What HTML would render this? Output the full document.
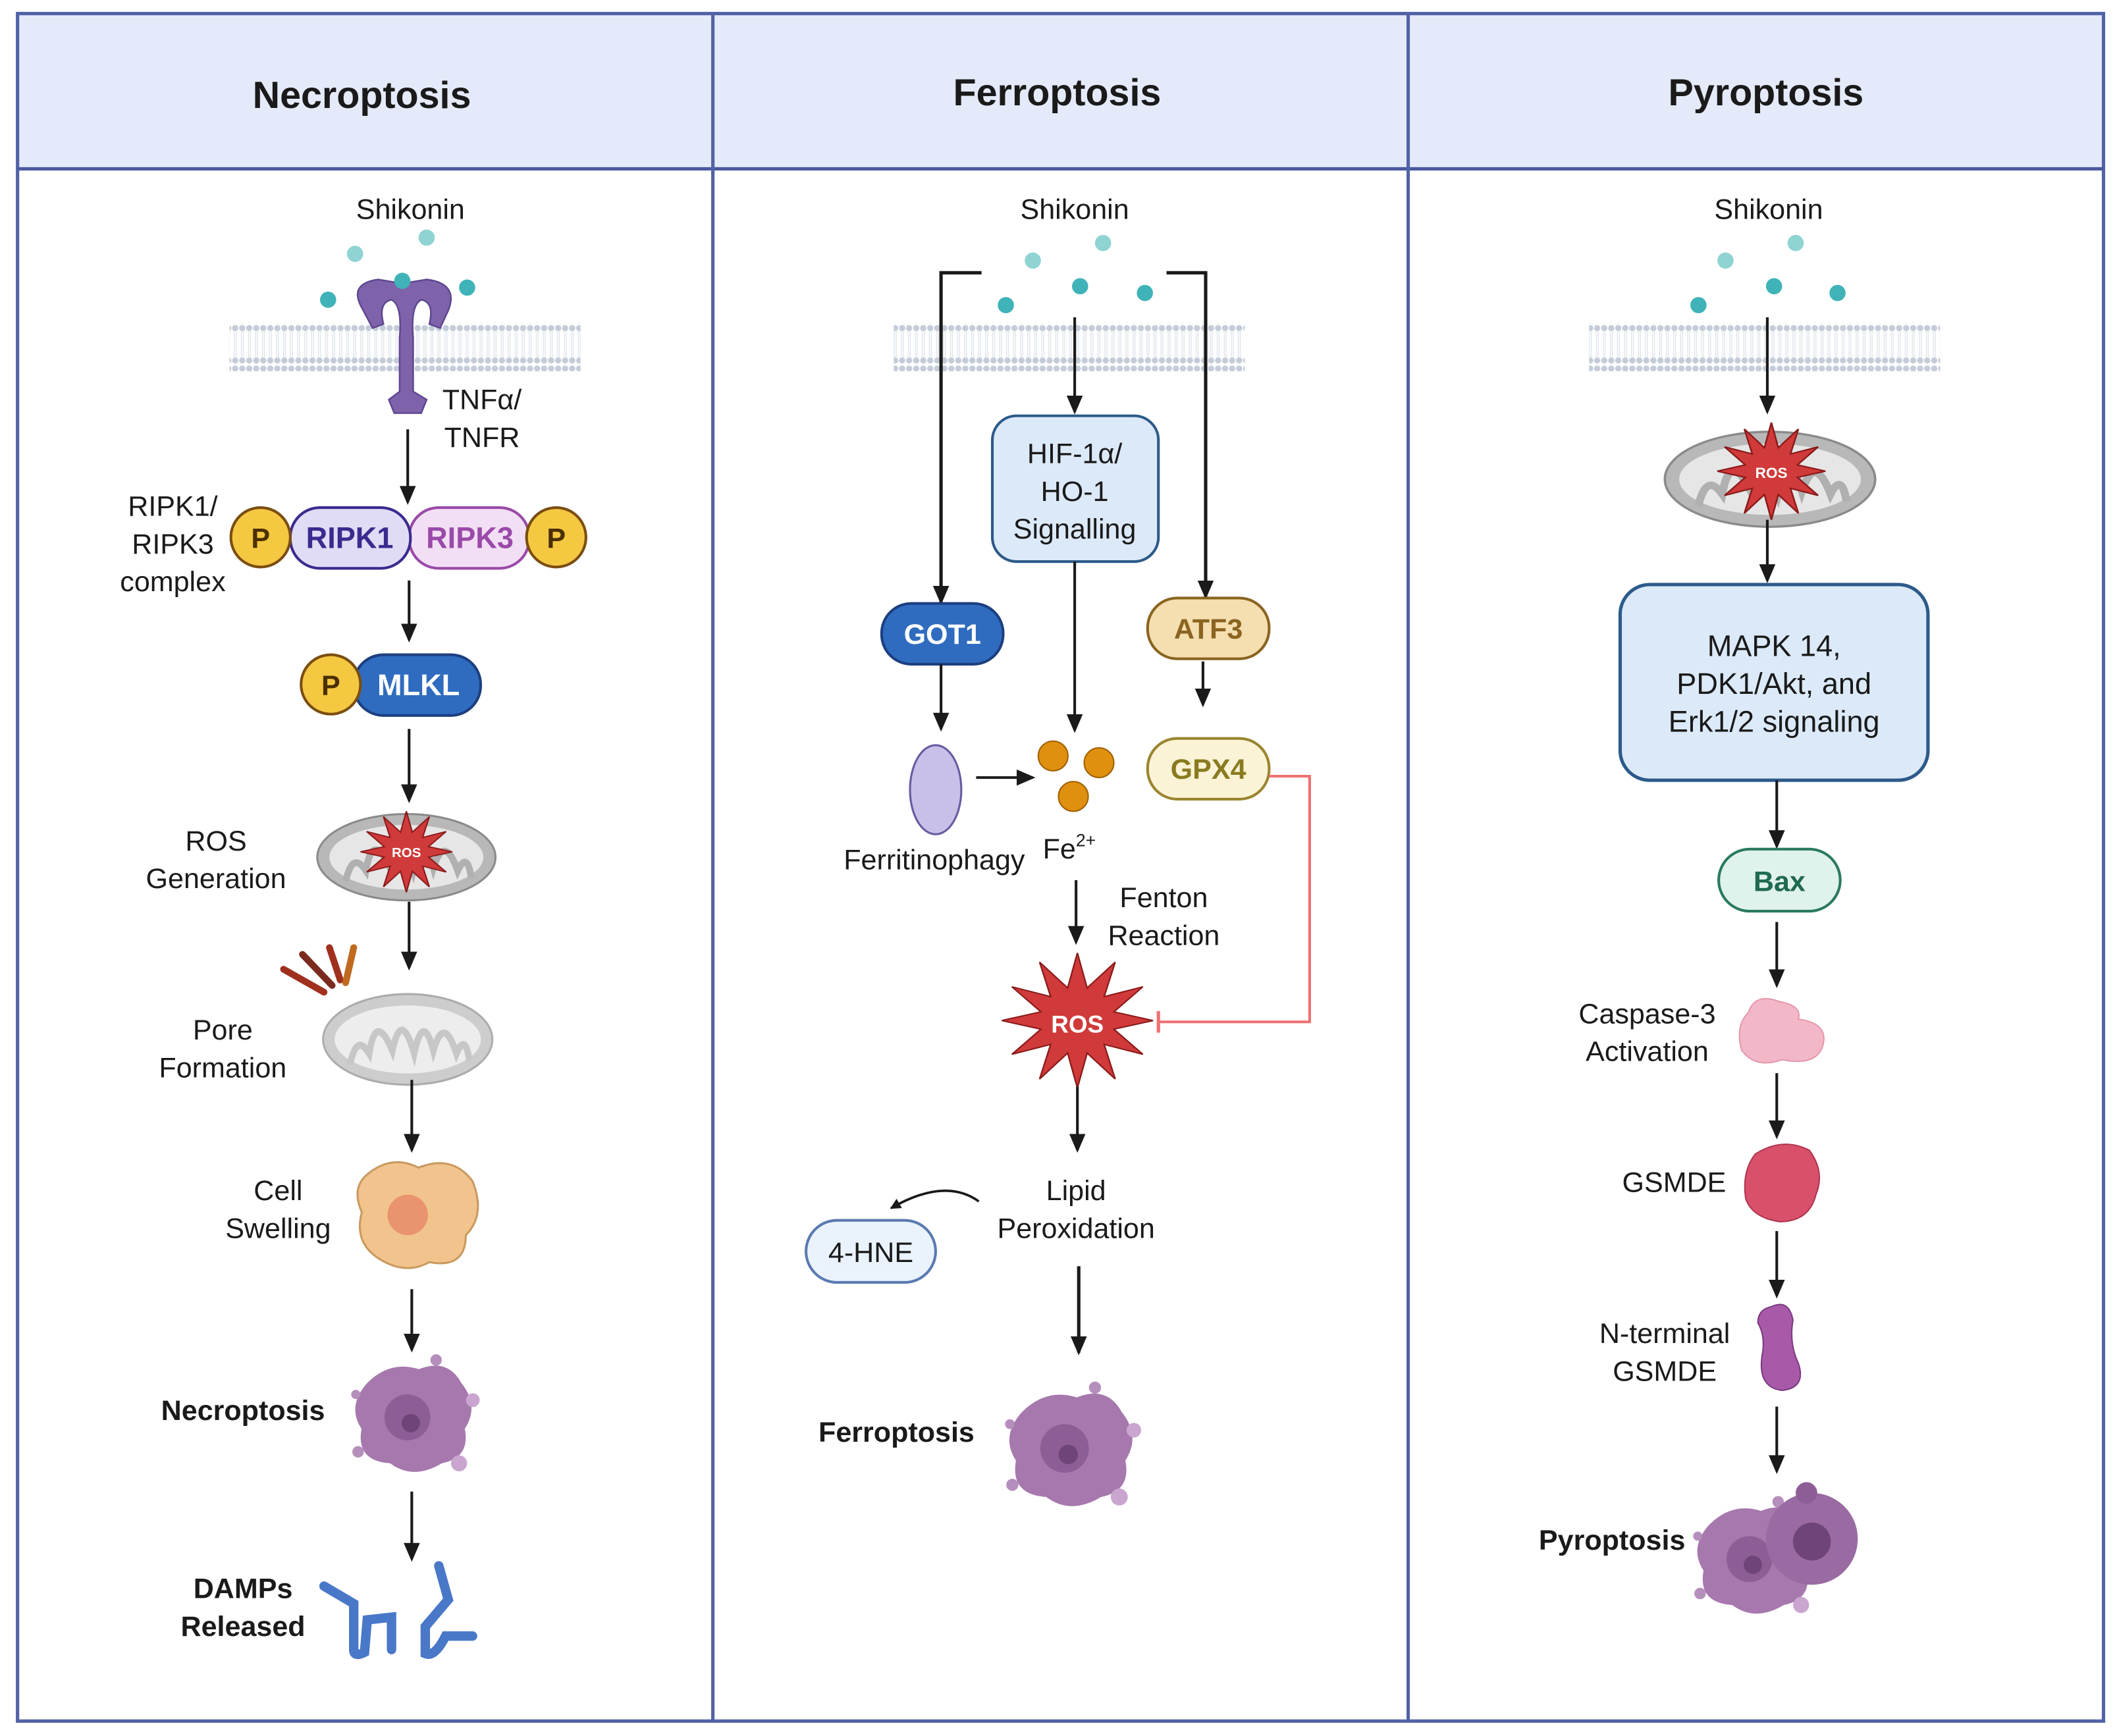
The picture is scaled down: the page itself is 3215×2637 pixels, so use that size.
<!DOCTYPE html>
<html><head><meta charset="utf-8"><style>
html,body{margin:0;padding:0;background:#fff}
svg{display:block}
text{font-family:"Liberation Sans",sans-serif;fill:#1a1a1a}
</style></head><body>
<svg width="3215" height="2637" viewBox="0 0 1568 1286" xmlns="http://www.w3.org/2000/svg">
<defs>
<marker id="ah" markerWidth="8" markerHeight="8" refX="7" refY="4" orient="auto" markerUnits="userSpaceOnUse" viewBox="0 0 8 8"><path d="M0,0 L8,4 L0,8 z" fill="#1a1a1a"/></marker>
<marker id="ah2" markerWidth="14" markerHeight="14" refX="12" refY="7" orient="auto" markerUnits="userSpaceOnUse" viewBox="0 0 14 14"><path d="M0,1 L14,7 L0,13 z" fill="#1a1a1a"/></marker>
<pattern id="mem" width="5.2" height="30" patternUnits="userSpaceOnUse">
<circle cx="2.6" cy="3" r="2.3" fill="#c3ccd8"/><circle cx="2.6" cy="27" r="2.3" fill="#c3ccd8"/>
<line x1="2" y1="5" x2="2" y2="25" stroke="#dfe6ee" stroke-width="0.7"/><line x1="3.4" y1="5" x2="3.4" y2="25" stroke="#dfe6ee" stroke-width="0.7"/>
</pattern>
<path id="star" d="M0,-1 L0.129,-0.483 L0.5,-0.866 L0.354,-0.354 L0.866,-0.5 L0.483,-0.129 L1,0 L0.483,0.129 L0.866,0.5 L0.354,0.354 L0.5,0.866 L0.129,0.483 L0,1 L-0.129,0.483 L-0.5,0.866 L-0.354,0.354 L-0.866,0.5 L-0.483,0.129 L-1,0 L-0.483,-0.129 L-0.866,-0.5 L-0.354,-0.354 L-0.5,-0.866 L-0.129,-0.483 Z"/>
<g id="mito">
<ellipse cx="0" cy="0" rx="66" ry="32" fill="#b8b8b8" stroke="#8a8a8a" stroke-width="1.5"/>
<ellipse cx="0" cy="0" rx="57" ry="24" fill="#e6e6e6"/>
<path d="M-45,18 Q-40,-5 -30,10 Q-25,-20 -12,8 Q-5,-22 5,10 Q12,-20 20,8 Q28,-18 38,10 Q45,-5 48,15" fill="none" stroke="#b0b0b0" stroke-width="5"/>
</g>
<g id="cell">
<path d="M-40,-30 Q-20,-50 5,-42 Q30,-52 42,-30 Q58,-10 45,10 Q50,35 25,40 Q0,55 -20,40 Q-50,38 -45,10 Q-58,-10 -40,-30Z" fill="#a678ad"/>
<circle cx="-5" cy="0" r="20" fill="#8d5e96"/>
<circle cx="-2" cy="5" r="8" fill="#6f4478"/>
<circle cx="52" cy="-15" r="6" fill="#c9a5cf"/><circle cx="40" cy="40" r="7" fill="#c9a5cf"/><circle cx="-48" cy="30" r="5" fill="#b58fbb"/><circle cx="-50" cy="-20" r="4" fill="#b58fbb"/><circle cx="20" cy="-50" r="5" fill="#b58fbb"/>
</g>
</defs>

<rect x="13" y="10" width="1545" height="115" fill="#e5eafa"/>
<rect x="13" y="10" width="1545" height="1265" fill="none" stroke="#5262a6" stroke-width="2.5"/>
<line x1="13" y1="125" x2="1558" y2="125" stroke="#4a5aa0" stroke-width="2.5"/>
<line x1="528" y1="10" x2="528" y2="1275" stroke="#5262a6" stroke-width="2.5"/>
<line x1="1043" y1="10" x2="1043" y2="1275" stroke="#5262a6" stroke-width="2.5"/>
<g font-weight="bold" font-size="28" text-anchor="middle">
<text x="268" y="80">Necroptosis</text>
<text x="783" y="78">Ferroptosis</text>
<text x="1308" y="78">Pyroptosis</text>
</g>

<g font-size="21" text-anchor="middle">
<text x="304" y="162">Shikonin</text>
<rect x="170" y="239" width="260" height="36" fill="url(#mem)"/>
<g fill="#3fb3b8"><circle cx="263" cy="188" r="6" fill="#8fd3d3"/><circle cx="316" cy="176" r="6" fill="#8fd3d3"/><circle cx="243" cy="222" r="6"/><circle cx="346" cy="213" r="6"/></g>
<path d="M268,228 Q258,210 280,207 L298,210 L316,207 Q340,210 332,230 L326,243 L318,240 Q322,224 312,222 Q304,226 306,250 L306,290 L316,296 L312,306 L292,306 L288,296 L296,290 L296,250 Q298,226 290,222 Q280,224 284,240 L276,243 Z" fill="#7e63aa" stroke="#5e4690" stroke-width="1.2"/>
<circle cx="298" cy="208" r="6" fill="#3fb3b8"/>
<text x="357" y="303">TNFα/</text>
<text x="357" y="331">TNFR</text>
<line x1="302" y1="318" x2="302" y2="372" stroke="#1a1a1a" stroke-width="2" marker-end="url(#ah2)"/>
<text x="128" y="382">RIPK1/</text><text x="128" y="410">RIPK3</text><text x="128" y="438">complex</text>
<rect x="303" y="376" width="89" height="45" rx="22" fill="#f3dff5" stroke="#9a4aa8" stroke-width="2"/>
<rect x="215" y="376" width="89" height="45" rx="22" fill="#e0dcf5" stroke="#3b2a8f" stroke-width="2"/>
<text x="259" y="406" font-weight="bold" font-size="22" style="fill:#3b2a8f">RIPK1</text>
<text x="348" y="406" font-weight="bold" font-size="22" style="fill:#9a4aa8">RIPK3</text>
<circle cx="193" cy="398" r="22" fill="#f5c842" stroke="#7a4e10" stroke-width="2"/><text x="193" y="406" font-weight="bold" style="fill:#4a3000">P</text>
<circle cx="412" cy="398" r="22" fill="#f5c842" stroke="#7a4e10" stroke-width="2"/><text x="412" y="406" font-weight="bold" style="fill:#4a3000">P</text>
<line x1="303" y1="430" x2="303" y2="474" stroke="#1a1a1a" stroke-width="2" marker-end="url(#ah2)"/>
<rect x="262" y="485" width="94" height="45" rx="22" fill="#2f6cc0" stroke="#1d3f80" stroke-width="2"/>
<text x="310" y="515" font-weight="bold" font-size="22" style="fill:#fff">MLKL</text>
<circle cx="245" cy="507" r="22" fill="#f5c842" stroke="#7a4e10" stroke-width="2"/><text x="245" y="515" font-weight="bold" style="fill:#4a3000">P</text>
<line x1="303" y1="540" x2="303" y2="593" stroke="#1a1a1a" stroke-width="2" marker-end="url(#ah2)"/>
<text x="160" y="630">ROS</text><text x="160" y="658">Generation</text>
<use href="#mito" transform="translate(301,635)"/>
<use href="#star" transform="translate(301,631) scale(34,30)" fill="#d03a3a" stroke="#8a1a1a" stroke-width="0.03"/>
<text x="301" y="635" font-size="10" font-weight="bold" style="fill:#fff">ROS</text>
<line x1="303" y1="668" x2="303" y2="717" stroke="#1a1a1a" stroke-width="2" marker-end="url(#ah2)"/>
<text x="165" y="770">Pore</text><text x="165" y="798">Formation</text>
<use href="#mito" transform="translate(302,770) scale(0.95,1.05)" opacity="0.7"/>
<g stroke-width="5" stroke-linecap="round"><line x1="240" y1="735" x2="210" y2="718" stroke="#a0301e"/><line x1="246" y1="730" x2="224" y2="707" stroke="#7a2a1e"/><line x1="252" y1="726" x2="244" y2="702" stroke="#a0301e"/><line x1="256" y1="728" x2="262" y2="702" stroke="#c06a20"/></g>
<line x1="305" y1="800" x2="305" y2="852" stroke="#1a1a1a" stroke-width="2" marker-end="url(#ah2)"/>
<text x="206" y="889">Cell</text><text x="206" y="917">Swelling</text>
<path d="M272,870 Q290,855 310,865 Q335,855 350,875 Q360,900 345,915 Q345,940 318,935 Q300,945 280,932 Q262,920 268,898 Q260,880 272,870Z" fill="#f2c48d" stroke="#c99a60" stroke-width="1.5"/>
<circle cx="302" cy="900" r="15" fill="#e9946f"/>
<line x1="305" y1="955" x2="305" y2="1000" stroke="#1a1a1a" stroke-width="2" marker-end="url(#ah2)"/>
<text x="180" y="1052" font-weight="bold">Necroptosis</text>
<use href="#cell" transform="translate(306,1050) scale(0.85)"/>
<line x1="305" y1="1105" x2="305" y2="1155" stroke="#1a1a1a" stroke-width="2" marker-end="url(#ah2)"/>
<text x="180" y="1184" font-weight="bold">DAMPs</text><text x="180" y="1212" font-weight="bold">Released</text>
<g fill="none" stroke="#4a78c8" stroke-width="7" stroke-linecap="round">
<path d="M240,1175 L262,1188 L262,1222 Q262,1228 270,1224 L272,1200 L290,1198 L290,1222"/>
<path d="M325,1160 L332,1185 L315,1205 L315,1225 Q322,1228 330,1212 L350,1212"/>
</g>

<text x="796" y="162">Shikonin</text>
<rect x="662" y="239" width="260" height="36" fill="url(#mem)"/>
<g fill="#3fb3b8"><circle cx="765" cy="193" r="6" fill="#8fd3d3"/><circle cx="817" cy="180" r="6" fill="#8fd3d3"/><circle cx="800" cy="212" r="6"/><circle cx="745" cy="226" r="6"/><circle cx="848" cy="217" r="6"/></g>
<polyline points="727,202 697,202 697,446" fill="none" stroke="#1a1a1a" stroke-width="2.5" marker-end="url(#ah2)"/>
<polyline points="864,202 893,202 893,442" fill="none" stroke="#1a1a1a" stroke-width="2.5" marker-end="url(#ah2)"/>
<line x1="796" y1="235" x2="796" y2="305" stroke="#1a1a1a" stroke-width="2" marker-end="url(#ah2)"/>
<rect x="735" y="308" width="123" height="108" rx="18" fill="#dce9f8" stroke="#2c5a8a" stroke-width="2"/>
<text x="796" y="343">HIF-1α/</text><text x="796" y="371">HO-1</text><text x="796" y="399">Signalling</text>
<rect x="653" y="447" width="90" height="45" rx="22" fill="#2f6cc0" stroke="#1d3f80" stroke-width="2"/>
<text x="698" y="477" font-weight="bold" style="fill:#fff">GOT1</text>
<rect x="850" y="443" width="90" height="45" rx="22" fill="#f5dfb0" stroke="#8a6420" stroke-width="2"/>
<text x="895" y="473" font-weight="bold" style="fill:#8a6420">ATF3</text>
<line x1="697" y1="492" x2="697" y2="540" stroke="#1a1a1a" stroke-width="2" marker-end="url(#ah2)"/>
<line x1="796" y1="416" x2="796" y2="541" stroke="#1a1a1a" stroke-width="2" marker-end="url(#ah2)"/>
<line x1="891" y1="490" x2="891" y2="522" stroke="#1a1a1a" stroke-width="2" marker-end="url(#ah2)"/>
<rect x="850" y="547" width="90" height="45" rx="22" fill="#fbf3d5" stroke="#9a8530" stroke-width="2"/>
<text x="895" y="577" font-weight="bold" style="fill:#8a7a20">GPX4</text>
<ellipse cx="693" cy="585" rx="19" ry="33" fill="#c8c0e8" stroke="#6a5aa0" stroke-width="1.5"/>
<line x1="723" y1="576" x2="765" y2="576" stroke="#1a1a1a" stroke-width="2" marker-end="url(#ah2)"/>
<g fill="#e0900f" stroke="#a06000" stroke-width="1"><circle cx="780" cy="560" r="11"/><circle cx="814" cy="565" r="11"/><circle cx="795" cy="590" r="11"/></g>
<text x="692" y="644">Ferritinophagy</text>
<text x="792" y="636">Fe<tspan font-size="13" dy="-9">2+</tspan></text>
<line x1="797" y1="652" x2="797" y2="698" stroke="#1a1a1a" stroke-width="2" marker-end="url(#ah2)"/>
<text x="862" y="672">Fenton</text><text x="862" y="700">Reaction</text>
<polyline points="940,575 970,575 970,757 858,757" fill="none" stroke="#f07070" stroke-width="2"/>
<line x1="858" y1="749" x2="858" y2="765" stroke="#f07070" stroke-width="2.5"/>
<use href="#star" transform="translate(798,756) scale(56,50)" fill="#d03a3a" stroke="#8a1a1a" stroke-width="0.02"/>
<text x="798" y="765" font-size="18" font-weight="bold" style="fill:#fff">ROS</text>
<line x1="798" y1="805" x2="798" y2="852" stroke="#1a1a1a" stroke-width="2" marker-end="url(#ah2)"/>
<text x="797" y="889">Lipid</text><text x="797" y="917">Peroxidation</text>
<path d="M725,890 Q700,872 660,895" fill="none" stroke="#1a1a1a" stroke-width="1.8" marker-end="url(#ah)"/>
<rect x="597" y="904" width="96" height="46" rx="23" fill="#eaf2fc" stroke="#5a7ab0" stroke-width="2"/>
<text x="645" y="935">4-HNE</text>
<line x1="799" y1="938" x2="799" y2="1002" stroke="#1a1a1a" stroke-width="2.5" marker-end="url(#ah2)"/>
<text x="664" y="1068" font-weight="bold">Ferroptosis</text>
<use href="#cell" transform="translate(793,1073) scale(0.9)"/>

<text x="1310" y="162">Shikonin</text>
<rect x="1177" y="239" width="260" height="36" fill="url(#mem)"/>
<g fill="#3fb3b8"><circle cx="1278" cy="193" r="6" fill="#8fd3d3"/><circle cx="1330" cy="180" r="6" fill="#8fd3d3"/><circle cx="1314" cy="212" r="6"/><circle cx="1258" cy="226" r="6"/><circle cx="1361" cy="217" r="6"/></g>
<line x1="1309" y1="235" x2="1309" y2="305" stroke="#1a1a1a" stroke-width="2" marker-end="url(#ah2)"/>
<use href="#mito" transform="translate(1311,355) scale(1.18,1.1)"/>
<use href="#star" transform="translate(1312,349) scale(40,36)" fill="#d03a3a" stroke="#8a1a1a" stroke-width="0.03"/>
<text x="1312" y="354" font-size="11" font-weight="bold" style="fill:#fff">ROS</text>
<line x1="1309" y1="385" x2="1309" y2="430" stroke="#1a1a1a" stroke-width="2" marker-end="url(#ah2)"/>
<rect x="1200" y="433" width="228" height="145" rx="22" fill="#dce9f8" stroke="#2c5a8a" stroke-width="2.5"/>
<text x="1314" y="486" font-size="22">MAPK 14,</text><text x="1314" y="514" font-size="22">PDK1/Akt, and</text><text x="1314" y="542" font-size="22">Erk1/2 signaling</text>
<line x1="1316" y1="578" x2="1316" y2="627" stroke="#1a1a1a" stroke-width="2" marker-end="url(#ah2)"/>
<rect x="1273" y="629" width="90" height="46" rx="23" fill="#e0f2ec" stroke="#2a7a60" stroke-width="2"/>
<text x="1318" y="660" font-weight="bold" style="fill:#1f6a50">Bax</text>
<line x1="1316" y1="683" x2="1316" y2="730" stroke="#1a1a1a" stroke-width="2" marker-end="url(#ah2)"/>
<text x="1220" y="758">Caspase-3</text><text x="1220" y="786">Activation</text>
<path d="M1295,750 Q1300,735 1318,742 Q1335,745 1332,755 Q1355,758 1350,775 Q1345,790 1320,785 Q1300,792 1290,778 Q1285,760 1295,750Z" fill="#f3b8c8" stroke="#e598ab"/>
<line x1="1316" y1="795" x2="1316" y2="842" stroke="#1a1a1a" stroke-width="2" marker-end="url(#ah2)"/>
<text x="1240" y="883">GSMDE</text>
<path d="M1300,855 Q1320,842 1340,852 Q1352,868 1345,885 Q1340,905 1318,905 Q1298,902 1293,888 Q1290,868 1300,855Z" fill="#d8506a" stroke="#b03550"/>
<line x1="1316" y1="912" x2="1316" y2="960" stroke="#1a1a1a" stroke-width="2" marker-end="url(#ah2)"/>
<text x="1233" y="995">N-terminal</text><text x="1233" y="1023">GSMDE</text>
<path d="M1312,968 Q1325,962 1328,978 Q1325,995 1332,1010 Q1338,1028 1320,1030 Q1302,1028 1305,1005 Q1308,990 1302,980 Q1302,970 1312,968Z" fill="#a85aa8" stroke="#7a3a80"/>
<line x1="1316" y1="1042" x2="1316" y2="1090" stroke="#1a1a1a" stroke-width="2" marker-end="url(#ah2)"/>
<text x="1194" y="1148" font-weight="bold">Pyroptosis</text>
<use href="#cell" transform="translate(1300,1155) scale(0.85)"/>
<circle cx="1342" cy="1140" r="34" fill="#9a6aa2"/>
<circle cx="1342" cy="1142" r="14" fill="#6f4478"/>
<circle cx="1338" cy="1106" r="8" fill="#8d5e96"/>
</g>
</svg>
</body></html>
